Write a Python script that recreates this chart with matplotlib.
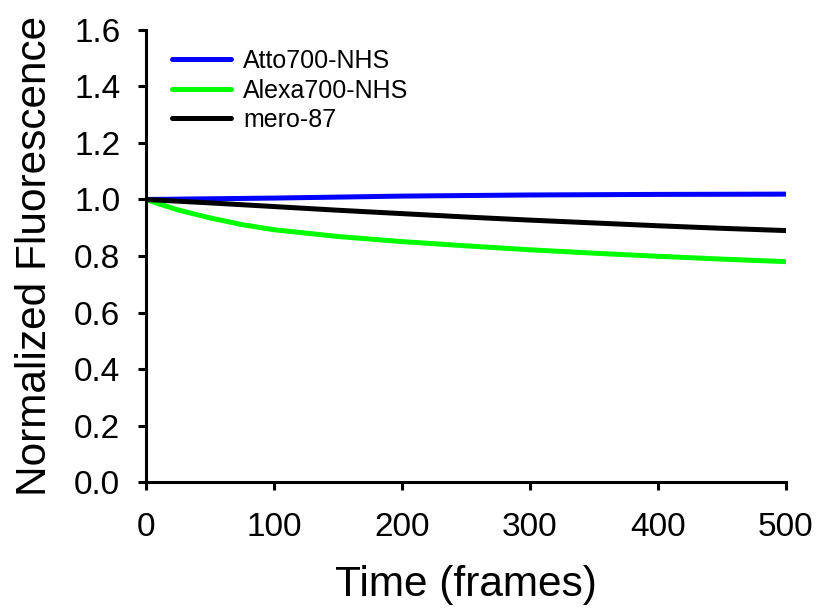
import matplotlib
matplotlib.use("Agg")
import matplotlib.pyplot as plt

plt.rcParams['font.family'] = ['Liberation Sans', 'DejaVu Sans']

frames_blue = [0, 100, 200, 300, 400, 500]
atto = [1.0, 1.005, 1.012, 1.016, 1.018, 1.019]

frames_green = [0, 10, 25, 50, 75, 100, 150, 200, 250, 300, 350, 400, 450, 500]
alexa = [1.0, 0.985, 0.963, 0.935, 0.911, 0.893, 0.869, 0.851, 0.836, 0.822, 0.810, 0.799, 0.789, 0.780]

frames_black = [0, 50, 100, 150, 200, 250, 300, 350, 400, 450, 500]
mero = [1.0, 0.988, 0.975, 0.962, 0.950, 0.938, 0.927, 0.917, 0.907, 0.898, 0.890]

labels = ["Atto700-NHS", "Alexa700-NHS", "mero-87"]
colors = ["#0000ff", "#00ff00", "#000000"]

fig = plt.figure(figsize=(8.2, 6.08), dpi=100)
ax = fig.add_axes([0.178, 0.2072, 0.7805, 0.7435])

ax.plot(frames_blue, atto, color=colors[0], lw=3.6, label=labels[0], solid_capstyle='round')
ax.plot(frames_green, alexa, color=colors[1], lw=3.6, label=labels[1], solid_capstyle='round')
ax.plot(frames_black, mero, color=colors[2], lw=3.6, label=labels[2], solid_capstyle='round')

ax.set_xlim(0, 500)
ax.set_ylim(0, 1.6)
ax.set_xticks([0, 100, 200, 300, 400, 500])
ax.set_yticks([0.0, 0.2, 0.4, 0.6, 0.8, 1.0, 1.2, 1.4, 1.6])
ax.set_yticklabels([f"{v:.1f}" for v in ax.get_yticks()])
ax.spines['top'].set_visible(False)
ax.spines['right'].set_visible(False)
for s in ['left', 'bottom']:
    ax.spines[s].set_linewidth(2.2)
ax.tick_params(axis='both', direction='out', length=5.5, width=2.2, labelsize=24)
ax.tick_params(axis='y', pad=13)
ax.tick_params(axis='x', pad=16)

ax.set_xlabel("Time (frames)", fontsize=30.5, labelpad=16)
ax.set_ylabel("Normalized Fluorescence", fontsize=30.5, labelpad=14)

leg = ax.legend(loc='upper left', bbox_to_anchor=(0.025, 0.98), borderaxespad=0,
                frameon=False, fontsize=18, handlelength=2.36, handletextpad=0.48,
                labelspacing=0.22)

fig.savefig("out.png", dpi=100)
